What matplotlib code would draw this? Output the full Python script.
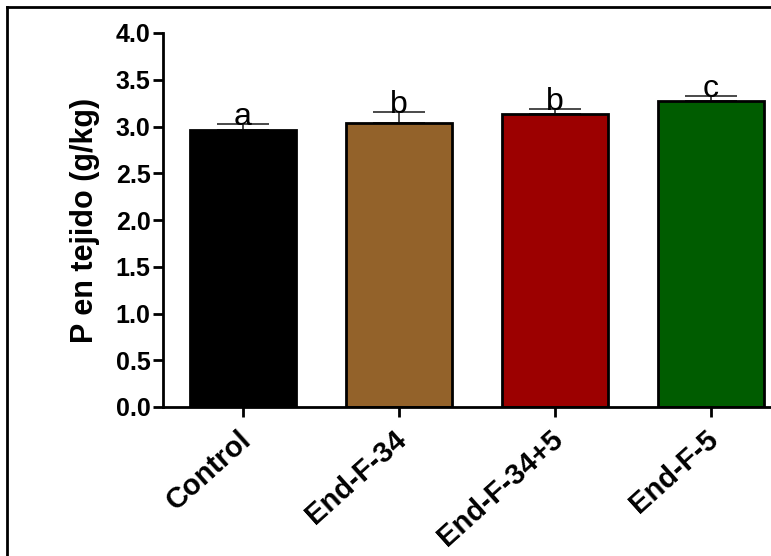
import numpy as np
import matplotlib

matplotlib.use("Agg")
import matplotlib.pyplot as plt  # noqa: E402
from matplotlib.lines import Line2D  # noqa: E402

plt.rcParams["font.family"] = ["Liberation Sans", "DejaVu Sans"]

groups = ["Control", "End-F-34", "End-F-34+5", "End-F-5"]
means = [2.96, 3.04, 3.13, 3.27]
errors = [0.07, 0.11, 0.06, 0.06]
letters = ["a", "b", "b", "c"]
colors = ["#000000", "#93622a", "#9c0000", "#005c00"]
yticks = [0.0, 0.5, 1.0, 1.5, 2.0, 2.5, 3.0, 3.5, 4.0]

fig = plt.figure(figsize=(7.71, 5.56), dpi=100)
ax = fig.add_axes([163 / 771, 149 / 556, 1 - 163 / 771, 374 / 556])

x = np.arange(len(groups))
ax.bar(x, means, width=0.68, color=colors, edgecolor="black", linewidth=2, zorder=2)
ax.errorbar(x, means, yerr=[np.zeros(len(errors)), errors], fmt="none",
            ecolor="#3a3a3a", elinewidth=1.3, capsize=19, capthick=1.3, zorder=1)
for xi, m, e, lt in zip(x, means, errors, letters):
    ax.text(xi, m + e - 0.01, lt, ha="center", va="baseline", fontsize=23)

ax.set_xlim(-0.513, 3.385)
ax.set_ylim(0, 4.0)
ax.set_yticks(yticks)
ax.set_yticklabels([f"{v:.1f}" for v in yticks], fontsize=18, fontweight="bold")
ax.set_xticks(x)
ax.set_xticklabels([])
# etiquetas del eje x rotadas, ancladas por su esquina superior derecha
for xi, g in zip(x, groups):
    ax.annotate(g, xy=(xi, 0), xycoords=("data", "axes fraction"),
                xytext=(-4, -13), textcoords="offset points",
                rotation=42, rotation_mode="anchor", ha="right", va="top",
                fontsize=21, fontweight="bold")
ax.set_ylabel("P en tejido (g/kg)", fontsize=22, fontweight="bold", labelpad=11)
for side in ("top", "right"):
    ax.spines[side].set_visible(False)
for side in ("left", "bottom"):
    ax.spines[side].set_linewidth(2)
ax.tick_params(axis="both", width=2, length=7, direction="out", pad=2)

# marco exterior de la imagen
fig.add_artist(Line2D([7 / 771, 7 / 771], [0, 1 - 7 / 556], color="black", lw=2))
fig.add_artist(Line2D([7 / 771, 1], [1 - 7 / 556, 1 - 7 / 556], color="black", lw=2))

fig.savefig("out.png", dpi=100)
